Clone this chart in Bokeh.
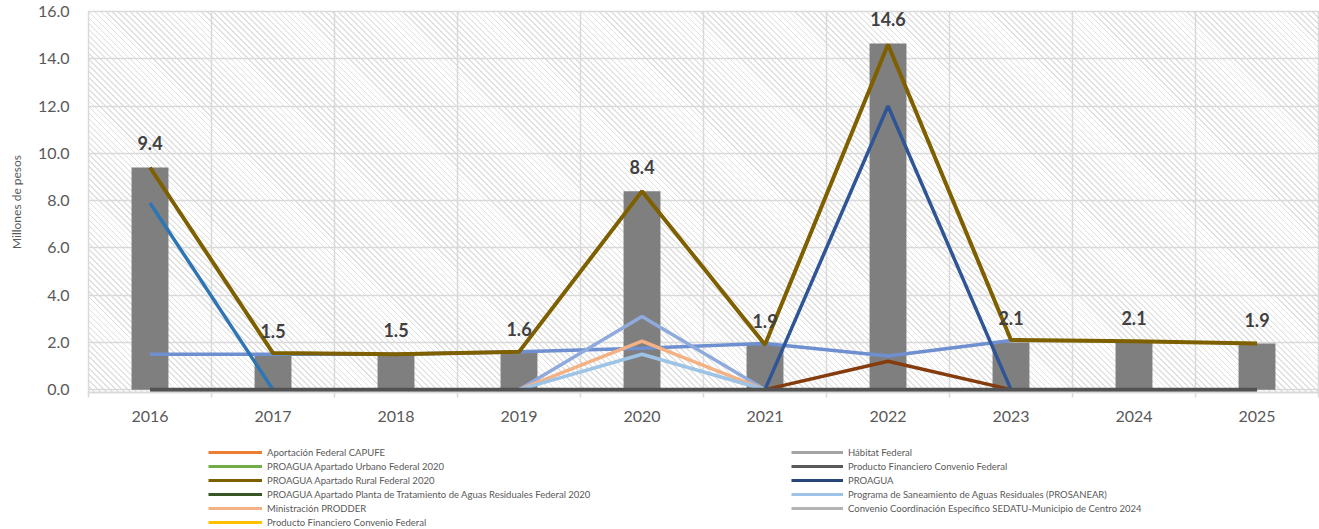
from bokeh.plotting import figure
from bokeh.models import (Range1d, FactorRange, LinearAxis, FixedTicker, Grid,
                          Legend, LegendItem, NumeralTickFormatter)
from bokeh.layouts import column
from bokeh.embed import file_html
from bokeh.resources import INLINE
from bokeh.core.properties import value

nan = float("nan")

# ---------------- data ----------------
years = ["2016", "2017", "2018", "2019", "2020", "2021", "2022", "2023", "2024", "2025"]
bar_values = [9.4, 1.45, 1.5, 1.55, 8.4, 1.9, 14.65, 2.0, 2.0, 1.95]
label_text = ["9.4", "1.5", "1.5", "1.6", "8.4", "1.9", "14.6", "2.1", "2.1", "1.9"]

rural_2020 = [9.4, 1.55, 1.5, 1.6, 8.4, 1.9, 14.6, 2.1, 2.05, 1.95]
serie_azul_media = [1.5, 1.5, 1.5, 1.6, 1.75, 1.95, 1.42, 2.08, nan, nan]
serie_azul_2016 = [7.9, 0.0, nan, nan, nan, nan, nan, nan, nan, nan]
serie_lila = [nan, nan, nan, 0.0, 3.1, 0.0, nan, nan, nan, nan]
prodder = [nan, nan, nan, 0.0, 2.05, 0.0, nan, nan, nan, nan]
prosanear = [nan, nan, nan, 0.0, 1.5, 0.0, nan, nan, nan, nan]
serie_cafe = [nan, nan, nan, nan, nan, 0.0, 1.2, 0.0, nan, nan]
proagua = [nan, nan, nan, nan, nan, 0.0, 12.0, 0.0, nan, nan]
prod_fin_gris = [0, 0, 0, 0, 0, 0, 0, 0, 0, 0]

y_ticks = [0, 2, 4, 6, 8, 10, 12, 14, 16]

legend_left = [
    ("Aportación Federal CAPUFE", "#ED7D31"),
    ("PROAGUA Apartado Urbano Federal 2020", "#70AD47"),
    ("PROAGUA Apartado Rural Federal 2020", "#7F6000"),
    ("PROAGUA Apartado Planta de Tratamiento de Aguas Residuales Federal 2020", "#375623"),
    ("Ministración PRODDER", "#F4B183"),
    ("Producto Financiero Convenio Federal", "#FFC000"),
]
legend_right = [
    ("Hábitat Federal", "#A5A5A5"),
    ("Producto Financiero Convenio Federal", "#595959"),
    ("PROAGUA", "#264478"),
    ("Programa de Saneamiento de Aguas Residuales (PROSANEAR)", "#9DC3E6"),
    ("Convenio Coordinación Específico SEDATU-Municipio de Centro 2024", "#B4B4B4"),
]

FONT = "Lato"
GRID = "#D9D9D9"
TXT = "#595959"
HATCH = "#E0E0E0"

# ---------------- main chart ----------------
W, H = 1319, 436
BL, BR, BT, BB = 88, 1, 11, 44
p = figure(width=W, height=H, x_range=FactorRange(factors=years, range_padding=0),
           y_range=Range1d(-0.12, 16), x_axis_location=None,
           toolbar_location=None, output_backend="svg",
           min_border_left=BL, min_border_right=BR, min_border_top=BT, min_border_bottom=BB)
# plot area: transparent frame over a diagonal-stripe background limited to the frame box
p.background_fill_alpha = 0
p.border_fill_color = "white"
p.styles = {
    "background-color": "white",
    "background-image": "repeating-linear-gradient(45deg, %s 0px, %s 1px, rgba(255,255,255,0) 1.3px, rgba(255,255,255,0) 4.2px)" % (HATCH, HATCH),
    "background-repeat": "no-repeat",
    "background-position": "%dpx %dpx" % (BL, BT),
    "background-size": "%dpx %dpx" % (W - BL - BR, H - BT - BB),
}
p.outline_line_color = GRID
p.outline_line_width = 1.5

# grids
p.xgrid.visible = False
bounds = list(range(len(years) + 1))
centers = [i + 0.5 for i in range(len(years))]
p.add_layout(Grid(dimension=0, ticker=FixedTicker(ticks=bounds),
                  grid_line_color=GRID, grid_line_width=1.5))
p.ygrid.ticker = FixedTicker(ticks=y_ticks)
p.ygrid.grid_line_color = GRID
p.ygrid.grid_line_width = 1.5

# y axis
yax = p.yaxis[0]
yax.ticker = FixedTicker(ticks=y_ticks)
yax.formatter = NumeralTickFormatter(format="0.0")
yax.axis_line_color = None
yax.major_tick_line_color = None
yax.minor_tick_line_color = None
yax.major_label_standoff = 13
yax.major_label_text_font = FONT
yax.major_label_text_font_size = "16px"
yax.major_label_text_color = TXT
yax.axis_label = "Millones de pesos"
yax.axis_label_standoff = 11
yax.axis_label_text_font = FONT
yax.axis_label_text_font_size = "12px"
yax.axis_label_text_font_style = "normal"
yax.axis_label_text_color = TXT

# x axis: labels at category centres, tick marks at category boundaries
xax = LinearAxis(ticker=FixedTicker(ticks=centers, minor_ticks=bounds),
                 major_label_overrides={c: y for c, y in zip(centers, years)})
xax.axis_line_color = GRID
xax.axis_line_width = 1.5
xax.major_tick_line_color = None
xax.major_tick_out = 0
xax.major_tick_in = 0
xax.minor_tick_line_color = GRID
xax.minor_tick_line_width = 1.5
xax.minor_tick_out = 5
xax.minor_tick_in = 0
xax.major_label_standoff = 13
xax.major_label_text_font = FONT
xax.major_label_text_font_size = "16px"
xax.major_label_text_color = TXT
p.add_layout(xax, "below")

# bars
p.vbar(x=years, top=bar_values, width=0.3, fill_color="#7F7F7F", line_color=None)

# lines
p.line(years, serie_azul_media, line_color="#6F90D0", line_width=3.5)
p.line(years, serie_azul_2016, line_color="#2E75B6", line_width=3.5)
p.line(years, serie_lila, line_color="#8FAADC", line_width=3.5)
p.line(years, prodder, line_color="#F4B183", line_width=3.5)
p.line(years, prosanear, line_color="#9DC3E6", line_width=3.5)
p.line(years, serie_cafe, line_color="#843C0C", line_width=3.5)
p.line(years, proagua, line_color="#2F5597", line_width=3.5)
p.line(years, rural_2020, line_color="#7F6000", line_width=4)
p.line(years, prod_fin_gris, line_color="#525252", line_width=4)

# data labels
p.text(x=years, y=bar_values, text=label_text, text_align="center", text_baseline="middle",
       y_offset=-24, text_font=value(FONT), text_font_style="bold",
       text_font_size="18px", text_color="#404040")

# ---------------- legend ----------------
lf = figure(width=W, height=93, x_range=Range1d(0, 1), y_range=Range1d(0, 1),
            x_axis_location=None, y_axis_location=None,
            toolbar_location=None, output_backend="svg", min_border=0)
lf.outline_line_color = None
lf.grid.visible = False
lf.background_fill_color = "white"
lf.border_fill_color = "white"


def make_legend(entries, x, y, glyph_w):
    items = []
    for name, color in entries:
        r = lf.line(x=[nan], y=[nan], line_color=color, line_width=3)
        items.append(LegendItem(label=name, renderers=[r]))
    return Legend(items=items, location=(x, y), orientation="vertical",
                  padding=0, margin=0, spacing=0, label_height=14, glyph_height=14,
                  glyph_width=glyph_w, label_standoff=5,
                  label_text_font=FONT, label_text_font_size="9.5px",
                  label_text_color=TXT, border_line_color=None,
                  background_fill_alpha=0)


lf.add_layout(make_legend(legend_left, 120, 0, 54))
lf.add_layout(make_legend(legend_right, 703, 14, 52))

layout = column(p, lf, spacing=0)
open("out.html", "w").write(file_html(layout, INLINE))
